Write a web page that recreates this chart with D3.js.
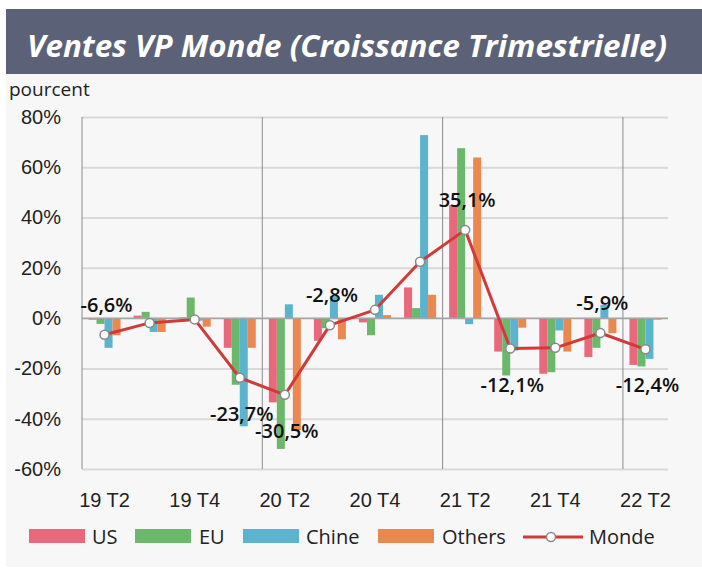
<!DOCTYPE html>
<html>
<head>
<meta charset="utf-8">
<script src="https://cdn.jsdelivr.net/npm/d3@7"></script>
<style>
  body { margin: 0; background: #fff; }
  svg { display: block; font-family: "Open Sans", sans-serif; }
</style>
</head>
<body>
<div id="chart"></div>
<script>
// data (quarterly growth, %)
const quarters = ["19 T2", "19 T3", "19 T4", "20 T1", "20 T2", "20 T3", "20 T4",
  "21 T1", "21 T2", "21 T3", "21 T4", "22 T1", "22 T2"];
const us = [-0.6, 1.0, 0.3, -11.8, -33.5, -9.0, -1.7, 12.2, 45.0, -13.3, -22.1, -15.5, -18.6];
const eu = [-2.3, 2.5, 8.2, -26.5, -52.0, -4.0, -6.8, 4.0, 67.6, -22.8, -21.5, -11.8, -19.2];
const chine = [-11.8, -5.5, -1.0, -43.0, 5.5, 8.9, 9.3, 72.8, -2.4, -12.9, -4.9, 5.3, -16.2];
const others = [-6.8, -5.5, -3.4, -11.8, -44.5, -8.4, 1.2, 9.3, 63.9, -3.8, -13.3, -6.0, -0.6];
const monde = [-6.6, -1.9, -0.5, -23.7, -30.5, -2.8, 3.3, 22.4, 35.1, -12.1, -11.8, -5.9, -12.4];
// which Monde points get a value label, and where
const labelPos = ["above", null, null, "below", "below", "above", null, null, "above", "below", null, "above", "below"];
const yTicks = [-60, -40, -20, 0, 20, 40, 60, 80];
const xTickLabels = ["19 T2", "19 T4", "20 T2", "20 T4", "21 T2", "21 T4", "22 T2"];
const separators = ["20 T2", "21 T2", "22 T2"];

const series = [
  { name: "US", values: us, color: "#e8687c" },
  { name: "EU", values: eu, color: "#6cb86b" },
  { name: "Chine", values: chine, color: "#5cb3cd" },
  { name: "Others", values: others, color: "#eb8850" },
];

const W = 702, H = 568;
const plot = { left: 82, right: 668, top: 117, bottom: 469 };

const fr = d3.formatLocale({ decimal: ",", thousands: " ", grouping: [3], currency: ["", "€"], minus: "-" });
const fmt = fr.format(".1f");

const svg = d3.select("#chart").append("svg").attr("width", W).attr("height", H);

// background panel + title banner
svg.append("rect").attr("x", 6).attr("y", 74).attr("width", W - 6).attr("height", 493).attr("fill", "#f7f7f7");
svg.append("rect").attr("x", 6).attr("y", 9).attr("width", W - 6).attr("height", 65).attr("fill", "#5b6277");
svg.append("text")
  .attr("x", 27).attr("y", 57)
  .attr("fill", "#fff")
  .attr("font-size", 30).attr("font-weight", 700).attr("font-style", "italic")
  .attr("textLength", 640).attr("lengthAdjust", "spacingAndGlyphs")
  .text("Ventes VP Monde (Croissance Trimestrielle)");

svg.append("text").attr("x", 9).attr("y", 96).attr("font-size", 19).attr("fill", "#222").text("pourcent");

// scales
const x0 = d3.scaleBand().domain(quarters).range([plot.left, plot.right]).padding(0);
const bw = x0.bandwidth();
const x1 = d3.scaleBand().domain(series.map((s) => s.name)).range([bw * 0.145, bw * 0.855]).padding(0);
const y = d3.scaleLinear().domain([-60, 80]).range([plot.bottom, plot.top]);

// y axis with gridlines
const yAxis = svg.append("g")
  .attr("transform", "translate(" + plot.left + ",0)")
  .call(d3.axisLeft(y).tickValues(yTicks).tickSize(-(plot.right - plot.left)).tickPadding(21).tickFormat((d) => d + "%"));
yAxis.select(".domain").remove();
yAxis.selectAll(".tick line").attr("stroke", "#d9d9d9").attr("stroke-width", 2);
yAxis.selectAll(".tick text").attr("font-size", 20).attr("fill", "#222");

// vertical separators and left axis
svg.append("g").selectAll("line")
  .data(separators)
  .join("line")
  .attr("x1", (d) => x0(d)).attr("x2", (d) => x0(d))
  .attr("y1", plot.top).attr("y2", plot.bottom)
  .attr("stroke", "#8c8c8c").attr("stroke-width", 1);
svg.append("line")
  .attr("x1", plot.left).attr("x2", plot.left)
  .attr("y1", plot.top).attr("y2", plot.bottom)
  .attr("stroke", "#8c8c8c");

// bars
const groups = svg.append("g").selectAll("g")
  .data(series)
  .join("g")
  .attr("fill", (s) => s.color);
groups.selectAll("rect")
  .data((s) => s.values.map((v, i) => ({ name: s.name, q: quarters[i], v: v })))
  .join("rect")
  .attr("x", (d) => x0(d.q) + x1(d.name))
  .attr("width", x1.bandwidth())
  .attr("y", (d) => y(Math.max(0, d.v)))
  .attr("height", (d) => Math.abs(y(d.v) - y(0)));

// zero line
svg.append("line")
  .attr("x1", plot.left).attr("x2", plot.right)
  .attr("y1", y(0)).attr("y2", y(0))
  .attr("stroke", "#a6a6a6").attr("stroke-width", 1.5);

// x axis labels
const xAxis = svg.append("g")
  .attr("transform", "translate(0," + plot.bottom + ")")
  .call(d3.axisBottom(x0).tickValues(xTickLabels).tickSize(0).tickPadding(24));
xAxis.select(".domain").remove();
xAxis.selectAll(".tick text").attr("font-size", 20).attr("fill", "#222");

// Monde line
const cx = (i) => x0(quarters[i]) + bw / 2;
const line = d3.line().x((d, i) => cx(i)).y((d) => y(d));
svg.append("path")
  .datum(monde)
  .attr("d", line)
  .attr("fill", "none")
  .attr("stroke", "#d03a3a")
  .attr("stroke-width", 3)
  .attr("stroke-linejoin", "round");
svg.append("g").selectAll("circle")
  .data(monde)
  .join("circle")
  .attr("cx", (d, i) => cx(i))
  .attr("cy", (d) => y(d))
  .attr("r", 4.5)
  .attr("fill", "#fff")
  .attr("stroke", "#8a8a8a")
  .attr("stroke-width", 1.5);

// value labels
svg.append("g").selectAll("text")
  .data(monde.map((v, i) => ({ v: v, i: i, pos: labelPos[i] })).filter((d) => d.pos))
  .join("text")
  .attr("x", (d) => cx(d.i) + 2)
  .attr("y", (d) => (d.pos === "above" ? y(d.v) - 23 : y(d.v) + 43))
  .attr("text-anchor", "middle")
  .attr("font-size", 20)
  .attr("font-weight", 600)
  .attr("fill", "#111")
  .text((d) => fmt(d.v) + "%");

// legend
const legendItems = [
  { name: "US", color: "#e8687c", x: 29, tx: 92 },
  { name: "EU", color: "#6cb86b", x: 135, tx: 199 },
  { name: "Chine", color: "#5cb3cd", x: 243, tx: 306 },
  { name: "Others", color: "#eb8850", x: 378, tx: 442 },
];
const legend = svg.append("g");
legend.selectAll("rect")
  .data(legendItems)
  .join("rect")
  .attr("x", (d) => d.x).attr("y", 529)
  .attr("width", 56).attr("height", 14)
  .attr("fill", (d) => d.color);
legend.selectAll("text")
  .data(legendItems.concat([{ name: "Monde", tx: 589 }]))
  .join("text")
  .attr("x", (d) => d.tx).attr("y", 544)
  .attr("font-size", 20).attr("fill", "#222")
  .text((d) => d.name);
legend.append("line")
  .attr("x1", 523).attr("x2", 583).attr("y1", 537).attr("y2", 537)
  .attr("stroke", "#d03a3a").attr("stroke-width", 3);
legend.append("circle")
  .attr("cx", 551).attr("cy", 537).attr("r", 4.5)
  .attr("fill", "#fff").attr("stroke", "#8a8a8a").attr("stroke-width", 1.5);
</script>
</body>
</html>
